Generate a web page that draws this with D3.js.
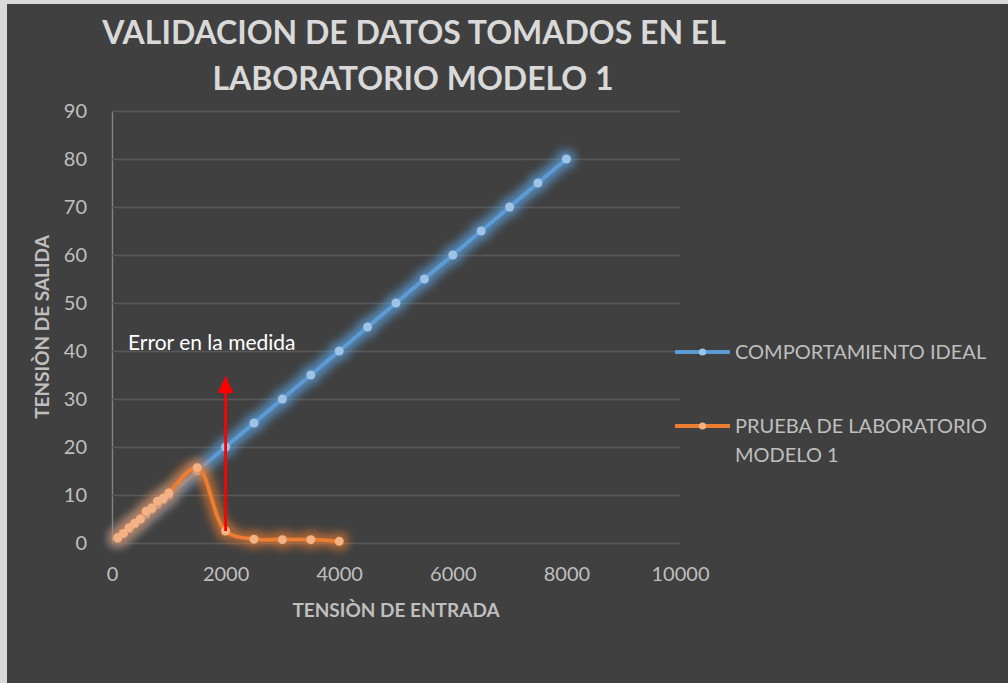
<!DOCTYPE html>
<meta charset="utf-8">
<style>
  body { margin: 0; background: #d9d9d9; }
  text { font-family: Lato, "Open Sans", sans-serif; }
</style>
<body>
<script src="https://d3js.org/d3.v7.min.js"></script>
<script>

// ---- data ----
var xTicks = [0, 2000, 4000, 6000, 8000, 10000];
var yTicks = [0, 10, 20, 30, 40, 50, 60, 70, 80, 90];

var idealX = [100, 200, 300, 400, 500, 600, 700, 800, 900, 1000, 1500, 2000, 2500, 3000,
              3500, 4000, 4500, 5000, 5500, 6000, 6500, 7000, 7500, 8000];
var idealY = [1, 2, 3, 4, 5, 6, 7, 8, 9, 10, 15, 20, 25, 30,
              35, 40, 45, 50, 55, 60, 65, 70, 75, 80];

var labX = [100, 200, 300, 400, 500, 600, 700, 800, 900, 1000, 1500, 2000, 2500, 3000, 3500, 4000];
var labY = [1.1, 2, 3.2, 4.1, 5, 6.6, 7.3, 8.7, 9.3, 10.4, 15.7, 2.5, 0.8, 0.7, 0.7, 0.35];

var seriesNames = ["COMPORTAMIENTO IDEAL", "PRUEBA DE LABORATORIO MODELO 1"];

// annotation (error arrow)
var arrowX = 2000, arrowFrom = 2.5, arrowTo = 34.6;

var W = 1008, H = 683;

var svg = d3.select("body").append("svg")
    .attr("width", W)
    .attr("height", H)
    .style("display", "block");

// chart background
svg.append("rect")
    .attr("x", 7).attr("y", 4)
    .attr("width", W - 7).attr("height", H - 4)
    .attr("fill", "#404040");

var defs = svg.append("defs");

function glow(id, color, op) {
  var f = defs.append("filter").attr("id", id)
      .attr("filterUnits", "userSpaceOnUse")
      .attr("x", 0).attr("y", 0).attr("width", W).attr("height", H);
  f.append("feMorphology").attr("in", "SourceAlpha").attr("operator", "dilate").attr("radius", 4).attr("result", "d");
  f.append("feGaussianBlur").attr("in", "d").attr("stdDeviation", 4).attr("result", "b");
  f.append("feFlood").attr("flood-color", color).attr("flood-opacity", op);
  f.append("feComposite").attr("in2", "b").attr("operator", "in").attr("result", "g");
  var m = f.append("feMerge");
  m.append("feMergeNode").attr("in", "g");
  m.append("feMergeNode").attr("in", "SourceGraphic");
}
glow("glowBlue", "#5b9bd5", 0.75);
glow("glowOrange", "#ed7d31", 0.65);

defs.append("marker")
    .attr("id", "arrowHead")
    .attr("markerUnits", "userSpaceOnUse")
    .attr("viewBox", "0 0 16 16")
    .attr("refX", 16).attr("refY", 8)
    .attr("markerWidth", 16).attr("markerHeight", 16)
    .attr("orient", "auto")
  .append("path")
    .attr("d", "M0,0L16,8L0,16Z")
    .attr("fill", "#ff0000");

var x = d3.scaleLinear().domain([0, 10000]).range([112, 680]);
var y = d3.scaleLinear().domain([0, 90]).range([543, 111]);

// title
var title = svg.append("g").attr("fill", "#d9d9d9")
    .style("font-weight", "bold").style("font-size", "32px");
title.append("text").attr("x", 414).attr("y", 44).attr("text-anchor", "middle")
    .text("VALIDACION DE DATOS TOMADOS EN EL");
title.append("text").attr("x", 413).attr("y", 90).attr("text-anchor", "middle")
    .text("LABORATORIO MODELO 1");

// y axis + gridlines
var yAxis = svg.append("g")
    .attr("transform", "translate(112,0)")
    .call(d3.axisLeft(y).tickValues(yTicks).tickSize(-568).tickSizeOuter(0).tickPadding(25));
yAxis.selectAll(".tick line").attr("stroke", "#595959").attr("stroke-width", 1.3);
yAxis.select(".domain").attr("stroke", "#858585").attr("stroke-width", 1.3);
yAxis.selectAll("text").attr("fill", "#bfbfbf").style("font-size", "20px")
    .style("font-family", "Lato, sans-serif");

// x axis labels
var xAxis = svg.append("g")
    .attr("transform", "translate(0,543)")
    .call(d3.axisBottom(x).tickValues(xTicks).tickFormat(d3.format("d"))
      .tickSize(0).tickPadding(24));
xAxis.select(".domain").remove();
xAxis.selectAll("text").attr("fill", "#bfbfbf").style("font-size", "20px")
    .style("font-family", "Lato, sans-serif");

// axis titles
svg.append("text")
    .attr("x", 396).attr("y", 617)
    .attr("text-anchor", "middle")
    .attr("fill", "#bfbfbf")
    .style("font-weight", "bold").style("font-size", "19px")
    .text("TENSIÒN DE ENTRADA");

svg.append("text")
    .attr("transform", "translate(49,327) rotate(-90)")
    .attr("text-anchor", "middle")
    .attr("fill", "#bfbfbf")
    .style("font-weight", "bold").style("font-size", "19px")
    .text("TENSIÒN DE SALIDA");

// series
var ideal = idealX.map(function(d, i) { return {x: d, y: idealY[i]}; });
var lab = labX.map(function(d, i) { return {x: d, y: labY[i]}; });

var line = d3.line()
    .x(function(d) { return x(d.x); })
    .y(function(d) { return y(d.y); })
    .curve(d3.curveCatmullRom.alpha(0.5));

function drawSeries(data, stroke, fill, filterId) {
  var g = svg.append("g").attr("filter", "url(#" + filterId + ")");
  g.append("path")
      .datum(data)
      .attr("d", line)
      .attr("fill", "none")
      .attr("stroke", stroke)
      .attr("stroke-width", 3.8)
      .attr("stroke-linejoin", "round");
  g.selectAll("circle")
      .data(data)
    .enter().append("circle")
      .attr("cx", function(d) { return x(d.x); })
      .attr("cy", function(d) { return y(d.y); })
      .attr("r", 4.5)
      .attr("fill", fill);
}
drawSeries(ideal, "#5b9bd5", "#9dc3e6", "glowBlue");
drawSeries(lab, "#ed7d31", "#f4b183", "glowOrange");

// error annotation
svg.append("line")
    .attr("x1", x(arrowX)).attr("y1", y(arrowFrom))
    .attr("x2", x(arrowX)).attr("y2", y(arrowTo))
    .attr("stroke", "#ff0000")
    .attr("stroke-width", 2.8)
    .attr("marker-end", "url(#arrowHead)");

svg.append("text")
    .attr("x", 128).attr("y", 350)
    .attr("fill", "#ffffff")
    .style("font-size", "21px")
    .text("Error en la medida");

// legend
var legend = svg.append("g").attr("transform", "translate(675,0)");
var legendItems = [
  {name: [seriesNames[0]], stroke: "#5b9bd5", fill: "#9dc3e6", y: 352},
  {name: ["PRUEBA DE LABORATORIO", "MODELO 1"], stroke: "#ed7d31", fill: "#f4b183", y: 426}
];
legendItems.forEach(function(d) {
  legend.append("line")
      .attr("x1", 0).attr("x2", 55)
      .attr("y1", d.y).attr("y2", d.y)
      .attr("stroke", d.stroke).attr("stroke-width", 3.8);
  legend.append("circle")
      .attr("cx", 27.5).attr("cy", d.y).attr("r", 3.6)
      .attr("fill", d.fill);
  d.name.forEach(function(t, i) {
    legend.append("text")
        .attr("x", 60).attr("y", d.y + i * 29)
        .attr("dy", "0.35em")
        .attr("fill", "#bfbfbf")
        .style("font-size", "20px")
        .text(t);
  });
});

</script>
